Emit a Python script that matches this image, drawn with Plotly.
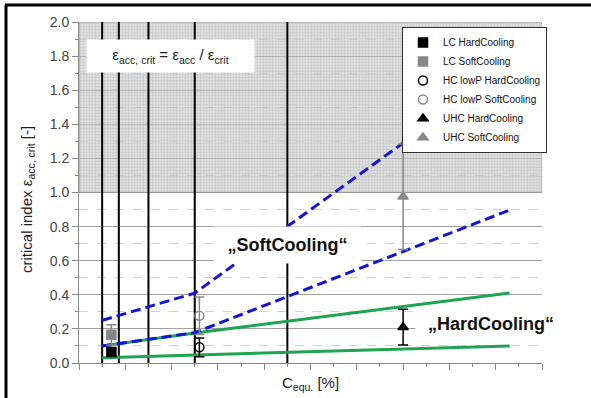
import plotly.graph_objects as go

W, H = 591, 398
ML, MR, MT, MB = 79, 49, 22, 35
PW, PH = W - ML - MR, H - MT - MB

def px_x(p):
    return (p - ML) / PW

def px_y(p):
    return (H - MB - p) / PH

# ---------------- data ----------------
x_range = [0, 20]
y_range = [0, 2.0]
critical_band = [1.0, 2.0]
v_lines = [1.0, 1.72, 3.0, 5.0, 9.0]

soft_upper_x = [1.0, 5.0, 18.6]
soft_upper_y = [0.25, 0.41, 1.74]
soft_lower_x = [1.0, 5.0, 18.6]
soft_lower_y = [0.10, 0.178, 0.897]
hard_upper_x = [1.0, 5.0, 18.6]
hard_upper_y = [0.10, 0.176, 0.41]
hard_lower_x = [1.0, 5.0, 18.6]
hard_lower_y = [0.031, 0.047, 0.10]

series_names = ["LC HardCooling", "LC SoftCooling",
                "HC lowP HardCooling", "HC lowP SoftCooling",
                "UHC HardCooling", "UHC SoftCooling"]
series_x = [1.4, 1.4, 5.2, 5.2, 14.0, 14.0]
series_y = [0.065, 0.165, 0.092, 0.277, 0.21, 0.975]
series_err = [0.02, 0.06, 0.055, 0.11, 0.105, 0.31]
series_symbol = ["square", "square", "circle-open", "circle-open", "triangle-up", "triangle-up"]
series_color = ["#000000", "#888888", "#000000", "#888888", "#000000", "#888888"]
series_group = ["LC", "LC", "HC", "HC", "UHC", "UHC"]

BLUE = "#1414d8"
GREEN = "#1fa552"

fig = go.Figure()

# hatched critical region
fig.add_trace(go.Scatter(
    x=[x_range[0], x_range[1], x_range[1], x_range[0], x_range[0]],
    y=[critical_band[0], critical_band[0], critical_band[1], critical_band[1], critical_band[0]],
    mode="lines", fill="toself",
    fillcolor="rgba(0,0,0,0)",
    fillpattern=dict(shape=".", size=3, solidity=0.5,
                     bgcolor="rgba(212,212,212,0.6)", fgcolor="rgba(135,135,135,0.6)"),
    line=dict(color="#999999", width=1),
    showlegend=False, hoverinfo="skip"))

# vertical black lines
vx, vy = [], []
for v in v_lines:
    vx += [v, v, None]
    vy += [y_range[0], y_range[1], None]
fig.add_trace(go.Scatter(x=vx, y=vy, mode="lines",
                         line=dict(color="black", width=2),
                         showlegend=False, hoverinfo="skip"))

# green (HardCooling) lines
for xs, ys in [(hard_upper_x, hard_upper_y), (hard_lower_x, hard_lower_y)]:
    fig.add_trace(go.Scatter(x=xs, y=ys, mode="lines",
                             line=dict(color=GREEN, width=3),
                             showlegend=False, hoverinfo="skip"))
# blue dashed (SoftCooling) lines
for xs, ys in [(soft_upper_x, soft_upper_y), (soft_lower_x, soft_lower_y)]:
    fig.add_trace(go.Scatter(x=xs, y=ys, mode="lines",
                             line=dict(color=BLUE, width=3, dash="10px,5px"),
                             showlegend=False, hoverinfo="skip"))

# markers with error bars
for i, name in enumerate(series_names):
    col = series_color[i]
    fig.add_trace(go.Scatter(
        x=[series_x[i]], y=[series_y[i]], mode="markers", name=name,
        legendgroup=series_group[i],
        marker=dict(symbol=series_symbol[i], size=9, color=col,
                    line=dict(color=col, width=1.5)),
        error_y=dict(type="data", array=[series_err[i]], color=col,
                     thickness=1.5, width=5)))

shapes = [
    dict(type="line", xref="paper", yref="paper",
         x0=px_x(6), x1=px_x(6), y0=px_y(5), y1=px_y(H),
         line=dict(color="black", width=3)),
    dict(type="line", xref="paper", yref="paper",
         x0=px_x(5), x1=px_x(W), y0=px_y(5), y1=px_y(5),
         line=dict(color="black", width=3)),
]

annotations = [
    dict(x=px_x(170), y=px_y(56), xref="paper", yref="paper",
         text="ε<sub>acc, crit</sub> = ε<sub>acc</sub> / ε<sub>crit</sub>",
         showarrow=False, font=dict(family="Arial", size=15, color="#222"),
         bgcolor="white", width=165, height=30, borderpad=1,
         xanchor="center", yanchor="middle"),
    dict(x=px_x(287), y=px_y(245), xref="paper", yref="paper",
         text="<b>„SoftCooling“</b>", showarrow=False,
         font=dict(family="Arial", size=18, color="#111"),
         bgcolor="white", width=145, height=34, borderpad=1,
         xanchor="center", yanchor="middle"),
    dict(x=px_x(491), y=px_y(324), xref="paper", yref="paper",
         text="<b>„HardCooling“</b>", showarrow=False,
         font=dict(family="Arial", size=18, color="#111"),
         bgcolor="white", width=148, height=24, borderpad=1,
         xanchor="center", yanchor="middle"),
    dict(x=px_x(27), y=px_y(200), xref="paper", yref="paper",
         text="critical index ε<sub>acc, crit</sub> [-]", textangle=-90,
         showarrow=False, font=dict(family="Arial", size=15, color="#222"),
         xanchor="center", yanchor="middle"),
    dict(x=px_x(310), y=px_y(383), xref="paper", yref="paper",
         text="C<sub>equ.</sub> [%]", showarrow=False,
         font=dict(family="Arial", size=15, color="#222"),
         xanchor="center", yanchor="middle"),
]

fig.update_layout(
    width=W, height=H,
    margin=dict(l=ML, r=MR, t=MT, b=MB, autoexpand=False),
    paper_bgcolor="white", plot_bgcolor="white",
    font=dict(family="Arial", color="#333"),
    shapes=shapes, annotations=annotations,
    legend=dict(x=px_x(402), y=px_y(27), xanchor="left", yanchor="top",
                bgcolor="white", bordercolor="#333", borderwidth=1,
                font=dict(family="Arial", size=10, color="#111"),
                tracegroupgap=0, itemwidth=30, traceorder="grouped"),
    xaxis=dict(range=x_range, showgrid=False, zeroline=False,
               showline=True, linecolor="#888", linewidth=1,
               ticks="outside", dtick=2, tick0=0, ticklen=6, tickcolor="#888",
               showticklabels=False,
               minor=dict(dtick=1, ticks="outside", ticklen=3, tickcolor="#888")),
    yaxis=dict(range=y_range, zeroline=False,
               showline=True, linecolor="#888", linewidth=1,
               ticks="outside", dtick=0.2, tick0=0, ticklen=6, tickcolor="#888",
               tickformat=".1f", tickfont=dict(family="Arial", size=14, color="#444"),
               showgrid=True, gridcolor="#a0a0a0", gridwidth=1,
               minor=dict(dtick=0.1, ticks="outside", ticklen=3, tickcolor="#888",
                          showgrid=True, gridcolor="#d0d0d0", griddash="dash")),
)

fig.write_html("out.html", config={"displayModeBar": False},
               post_script="document.body.style.margin='0';document.body.style.overflow='hidden';")
